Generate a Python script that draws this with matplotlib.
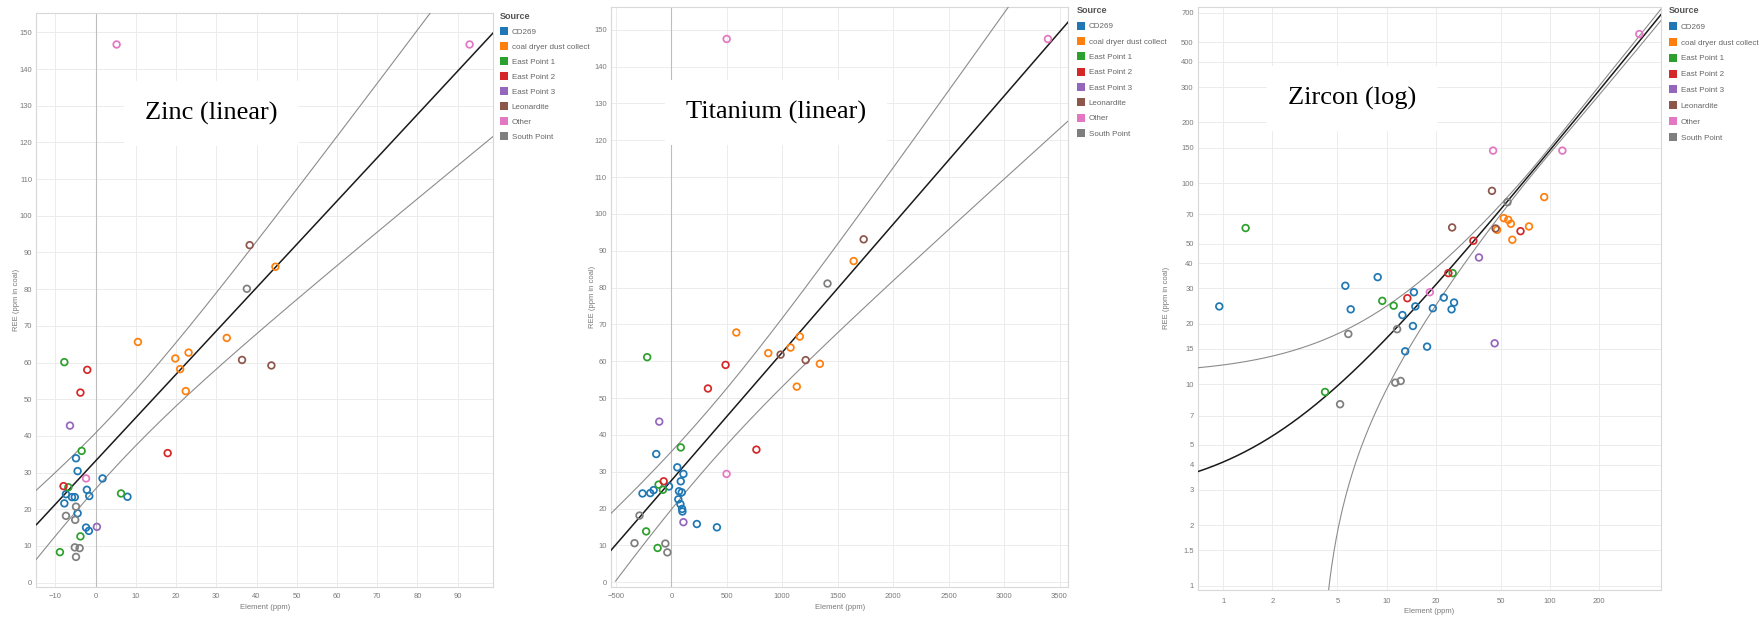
import matplotlib
matplotlib.use("Agg")
import matplotlib.pyplot as plt
from matplotlib.patches import Patch
from matplotlib.ticker import FixedLocator, FixedFormatter, NullLocator
import numpy as np

plt.rcParams['font.family'] = ['Liberation Sans', 'DejaVu Sans']

SOURCES = ["CD269", "coal dryer dust collect", "East Point 1", "East Point 2",
           "East Point 3", "Leonardite", "Other", "South Point"]
COLORS = ["#1f77b4", "#ff7f0e", "#2ca02c", "#d62728",
          "#9467bd", "#8c564b", "#e377c2", "#7f7f7f"]

# zinc (ppm) vs REE, one list per source
zinc_x = [
    [-4.9, -4.5, 1.7, -7.4, -5.9, -5.2, -7.8, -2.2, -1.6, -4.5, -2.4, -1.7, 7.9],
    [10.5, 19.8, 21.0, 23.1, 22.4, 32.6, 44.7],
    [-7.8, -3.5, -6.8, 6.3, -3.8, -8.9],
    [-2.1, -3.8, 17.9, -8.0],
    [-6.4, 0.3],
    [38.3, 36.4, 43.7],
    [5.2, 93.0, -2.4],
    [37.6, -4.9, -7.4, -5.1, -5.2, -4.0, -4.9],
]
zinc_y = [
    [33.9, 30.4, 28.4, 24.1, 23.3, 23.3, 21.6, 25.3, 23.6, 18.9, 15.0, 14.1, 23.4],
    [65.6, 61.1, 58.2, 62.7, 52.2, 66.7, 86.1],
    [60.1, 35.9, 26.0, 24.3, 12.6, 8.3],
    [58.0, 51.8, 35.3, 26.3],
    [42.8, 15.2],
    [92.0, 60.7, 59.2],
    [146.7, 146.7, 28.4],
    [80.1, 20.7, 18.2, 17.1, 9.6, 9.4, 7.0],
]

# titanium (ppm) vs REE
ti_x = [
    [-136, 54, 109, 85, -260, -190, -160, -21, 69, 94, 63, 82, 97, 100, 230, 411],
    [586, 874, 1075, 1158, 1339, 1131, 1644],
    [-218, 85, -115, -76, -227, -124],
    [489, 330, 767, -69],
    [-109, 109],
    [1734, 985, 1211],
    [499, 3396, 498],
    [1408, -287, -332, -54, -36],
]
ti_y = [
    [34.8, 31.2, 29.4, 27.4, 24.1, 24.2, 25.0, 26.0, 24.7, 24.4, 22.5, 21.2, 19.9, 19.2, 15.8, 14.9],
    [67.8, 62.2, 63.7, 66.7, 59.3, 53.1, 87.2],
    [61.1, 36.6, 26.5, 25.1, 13.8, 9.3],
    [59.0, 52.6, 36.0, 27.4],
    [43.6, 16.3],
    [93.1, 61.8, 60.3],
    [147.5, 147.5, 29.4],
    [81.1, 18.1, 10.6, 10.5, 8.1],
]

# zircon (ppm) vs REE, log axes
zr_x = [
    [0.945, 5.59, 8.82, 6.03, 14.7, 15.0, 12.5, 19.2, 22.4, 25.9, 25.0, 14.5, 13.0, 17.7],
    [47.5, 52.2, 55.6, 57.7, 74.5, 58.9, 92.3],
    [1.37, 9.41, 11.05, 25.4, 4.2],
    [34.0, 23.9, 13.4, 66.1],
    [36.8, 45.9],
    [44.2, 25.2, 46.5],
    [353, 44.9, 119.3, 18.4],
    [55.0, 11.6, 5.83, 11.3, 12.2, 5.19],
]
zr_y = [
    [24.4, 30.9, 34.1, 23.6, 28.7, 24.4, 22.1, 23.9, 27.0, 25.5, 23.6, 19.5, 14.6, 15.4],
    [58.6, 67.0, 65.7, 62.8, 60.9, 52.3, 85.2],
    [59.8, 26.0, 24.6, 35.7, 9.17],
    [51.7, 35.7, 26.8, 57.7],
    [42.7, 16.0],
    [91.5, 60.2, 59.5],
    [550, 145, 145, 28.7],
    [80.4, 18.8, 17.8, 10.2, 10.4, 7.97],
]

# linear trend (intercept, slope) and confidence band (x mean, c, d)
zinc_fit = (33.2, 1.18)
zinc_band = (5.0, 56.0, 0.084)
ti_fit = (27.6, 0.0348)
ti_band = (300.0, 56.0, 6.2e-5)
zr_fit = (2.69, 1.428)
zr_band = (70.0, 13.5, 0.0119)

TITLES = ["Zinc (linear)", "Titanium (linear)", "Zircon (log)"]
zr_yticks = [1, 1.5, 2, 3, 4, 5, 7, 10, 15, 20, 30, 40, 50, 70, 100, 150, 200, 300, 400, 500, 700]
zr_xticks = [1, 2, 5, 10, 20, 50, 100, 200]

W, H = 1761, 621
TXT = '#7a7a7a'
GRID = '#ececec'


def px_axes(fig, l, r, t, b):
    return fig.add_axes([l / W, 1 - b / H, (r - l) / W, (b - t) / H])


def style(ax):
    for s in ax.spines.values():
        s.set_color('#d8d8d8')
        s.set_linewidth(0.8)
    ax.tick_params(length=0, labelsize=5.5, labelcolor=TXT)
    ax.tick_params(axis='x', pad=4.5)
    ax.tick_params(axis='y', pad=3)
    ax.grid(True, color=GRID, linewidth=0.7)
    ax.set_axisbelow(True)
    ax.set_xlabel('Element (ppm)', fontsize=5.5, color=TXT)
    ax.set_ylabel('REE (ppm in coal)', fontsize=5.5, color=TXT)


def scatter(ax, xs, ys):
    for x, y, c in zip(xs, ys, COLORS):
        ax.scatter(x, y, s=23, facecolors='none', edgecolors=c, linewidths=1.25, zorder=4)


def trend(ax, fit, band, xx):
    a, b = fit
    m, c, d = band
    yy = a + b * xx
    hw = np.sqrt(c + d * (xx - m) ** 2)
    ax.plot(xx, yy, color='#1a1a1a', lw=1.1, zorder=3)
    ax.plot(xx, yy + hw, color='#8c8c8c', lw=0.8, zorder=3)
    lo = yy - hw
    ok = lo > 0
    ax.plot(xx[ok], lo[ok], color='#8c8c8c', lw=0.8, zorder=3)


def legend(fig, x, y, spacing):
    handles = [Patch(facecolor=c, edgecolor='none') for c in COLORS]
    lg = fig.legend(handles, SOURCES, title='Source', loc='upper left',
                    bbox_to_anchor=(x / W, 1 - y / H), bbox_transform=fig.transFigure,
                    frameon=False, fontsize=5.8, title_fontsize=6.5,
                    handlelength=1.0, handleheight=1.15, handletextpad=0.45,
                    labelspacing=spacing, borderpad=0, borderaxespad=0, alignment='left')
    for t in lg.get_texts():
        t.set_color('#666666')
    lg.get_title().set_color('#555555')
    lg.get_title().set_fontweight('bold')


def title(ax, text, x, y):
    ax.text(x, y, text, transform=ax.transAxes, fontsize=19, family='Liberation Serif',
            ha='left', va='baseline', zorder=6,
            bbox=dict(facecolor='white', edgecolor='none', pad=15))


fig = plt.figure(figsize=(W / 100, H / 100), dpi=100)

# --- zinc ---
ax1 = px_axes(fig, 36.4, 492.9, 13.3, 587)
style(ax1)
ax1.set_xlim(-14.75, 98.8)
ax1.set_ylim(-1.2, 155.2)
ax1.set_xticks(np.arange(-10, 91, 10))
ax1.set_yticks(np.arange(0, 151, 10))
ax1.axvline(0, color='#bdbdbd', lw=0.8, zorder=1)
trend(ax1, zinc_fit, zinc_band, np.linspace(-14.75, 98.8, 300))
scatter(ax1, zinc_x, zinc_y)
ax1.xaxis.set_label_coords(0.5, -0.030)
ax1.yaxis.set_label_coords(-0.036, 0.5)
title(ax1, TITLES[0], (145 - 36.4) / 456.5, (587 - 120) / 573.7)
legend(fig, 500, 12, 0.78)

# --- titanium ---
ax2 = px_axes(fig, 611, 1068.4, 7.3, 587)
style(ax2)
ax2.set_xlim(-544, 3580)
ax2.set_ylim(-1.3, 156.1)
ax2.set_xticks(np.arange(-500, 3501, 500))
ax2.set_yticks(np.arange(0, 151, 10))
ax2.axvline(0, color='#bdbdbd', lw=0.8, zorder=1)
trend(ax2, ti_fit, ti_band, np.linspace(-544, 3580, 300))
scatter(ax2, ti_x, ti_y)
ax2.xaxis.set_label_coords(0.5, -0.030)
ax2.yaxis.set_label_coords(-0.032, 0.5)
title(ax2, TITLES[1], (686 - 611) / 457.4, (587 - 119) / 579.7)
legend(fig, 1077, 6, 0.82)

# --- zircon ---
ax3 = px_axes(fig, 1197.8, 1660.9, 6.7, 590)
style(ax3)
ax3.set_xscale('log')
ax3.set_yscale('log')
ax3.set_xlim(0.698, 478.6)
ax3.set_ylim(0.952, 752)
ax3.xaxis.set_major_locator(FixedLocator(zr_xticks))
ax3.xaxis.set_major_formatter(FixedFormatter([f'{v:g}' for v in zr_xticks]))
ax3.yaxis.set_major_locator(FixedLocator(zr_yticks))
ax3.yaxis.set_major_formatter(FixedFormatter([f'{v:g}' for v in zr_yticks]))
ax3.xaxis.set_minor_locator(NullLocator())
ax3.yaxis.set_minor_locator(NullLocator())
ax3.tick_params(axis='x', pad=6)
trend(ax3, zr_fit, zr_band, np.geomspace(0.698, 478.6, 600))
scatter(ax3, zr_x, zr_y)
ax3.xaxis.set_label_coords(0.5, -0.031)
ax3.yaxis.set_label_coords(-0.060, 0.5)
title(ax3, TITLES[2], (1288 - 1197.8) / 463.1, (590 - 105) / 583.3)
legend(fig, 1669, 6, 0.88)

fig.savefig('out.png', dpi=100, facecolor='white')
